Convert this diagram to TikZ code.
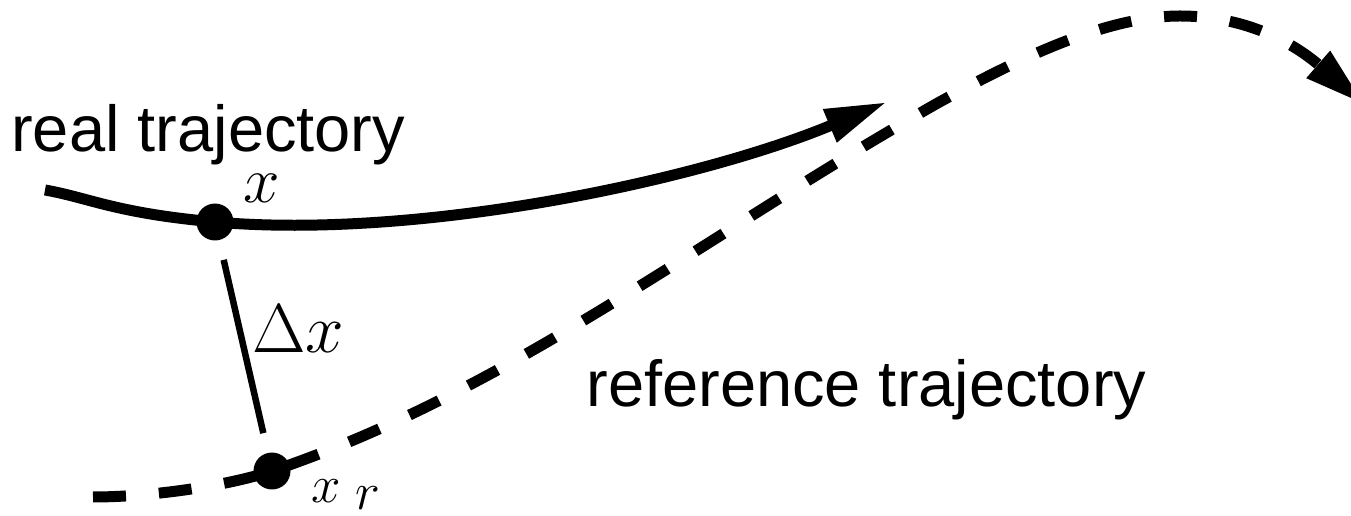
\documentclass[tikz,border=0pt]{standalone}
\usepackage{graphicx}
\usepackage{fix-cm}
\usepackage[no-math]{fontspec}
\newfontfamily\trajfont{Liberation Sans}
\usetikzlibrary{arrows.meta, positioning}

\begin{document}
\begin{tikzpicture}[
    x=0.02cm, y=-0.02cm,
    trajlabel/.style={font=\trajfont\fontsize{37}{44}\selectfont, inner sep=0pt},
    mathlabel/.style={font=\fontsize{20.74}{25}\selectfont, inner sep=0pt},
    dot/.style={circle, fill=black, inner sep=0pt, minimum size=0.74cm},
    realpath/.style={line width=0.22cm, -{Triangle[length=1.24cm, width=0.66cm]}},
    refpath/.style={line width=0.22cm, dash pattern=on 0.66cm off 0.66cm, -{Triangle[length=1.24cm, width=0.66cm]}},
    gapline/.style={line width=0.13cm, shorten <=0.4cm, shorten >=0.4cm}
]
\useasboundingbox (0,0) rectangle (1351,516);

% Points on the two trajectories
\node[dot] (x) at (215,222) {};
\node[dot] (xr) at (272,471) {};

\coordinate (realstart) at (45,190);
\coordinate (realend) at (887,102);
\coordinate (refstart) at (93,497);
\coordinate (refbend) at (936,104);
\coordinate (refpeak) at (1180,16);
\coordinate (refend) at (1365,105);

% Labels
\node[trajlabel, anchor=base west] (real) at (11,152) {real trajectory};
\node[trajlabel, anchor=base west] (ref) at (586,406) {reference trajectory};
\node[mathlabel, anchor=base] (xlab) at (262,203) {\scalebox{1.8}{$x$}};
\node[mathlabel, anchor=base] (dxlab) at (298,353) {\scalebox{1.9}{$\Delta x$}};
\node[mathlabel, anchor=base west] (xrlab) at (311,502) {\scalebox{1.45}{$x_{\textstyle\;r}$}};

% Trajectories
\draw[realpath] (realstart) .. controls (90,198) and (115,213) .. (x.center)
    .. controls (420,240) and (700,180) .. (realend);
\draw[refpath] (refstart) .. controls (150,497) and (227,486) .. (xr.center)
    .. controls (511,390) and (697,240) .. (refbend)
    .. controls (1026,54) and (1110,16) .. (refpeak)
    .. controls (1250,16) and (1297,46) .. (refend);

% Deviation
\draw[gapline] (x) -- (xr);

\end{tikzpicture}
\end{document}
